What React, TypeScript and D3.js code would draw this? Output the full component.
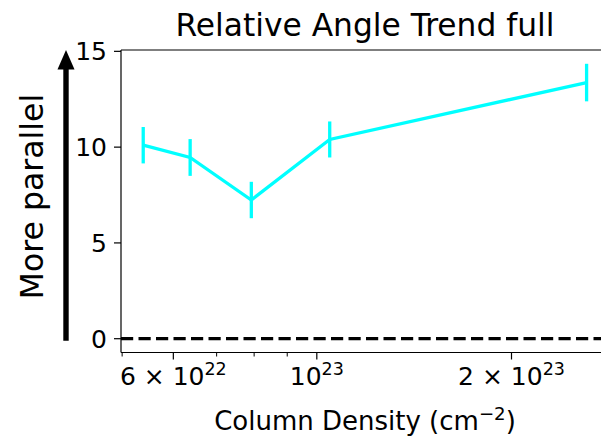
import React, { useEffect, useRef } from "react";
import * as d3 from "d3";

// column density bins (cm^-2) and mean relative angle per bin
const columnDensity = [5.39e22, 6.37e22, 7.92e22, 1.047e23, 2.613e23];
const relativeAngle = [10.1, 9.46, 7.24, 10.4, 13.37];
const angleError = [0.95, 0.96, 0.95, 0.94, 0.98];

const yTicks = [0, 5, 10, 15];
const xMajorTicks = [6e22, 1e23, 2e23];
const xMajorLabels = [
  { base: "6 \u00d7 10", exp: "22" },
  { base: "10", exp: "23" },
  { base: "2 \u00d7 10", exp: "23" },
];
const xMinorTicks = [5e22, 7e22, 8e22, 9e22, 3e23];

const W = 601;
const H = 436;
const FONT = "DejaVu Sans, sans-serif";

function App() {
  const ref = useRef<SVGSVGElement>(null);

  useEffect(() => {
    const svg = d3.select(ref.current);
    svg.selectAll("*").remove();

    const margin = { top: 50, left: 121, right: 609, bottom: 352.5 };

    const x = d3
      .scaleLog()
      .domain([4.98e22, 2.83e23])
      .range([margin.left, margin.right]);

    const y = d3
      .scaleLinear()
      .domain([-0.72, 15.07])
      .range([margin.bottom, margin.top]);

    // zero reference line
    svg
      .append("line")
      .attr("x1", margin.left)
      .attr("x2", margin.right)
      .attr("y1", y(0))
      .attr("y2", y(0))
      .attr("stroke", "#000")
      .attr("stroke-width", 3.3)
      .attr("stroke-dasharray", "12.2,5.3");

    const line = d3
      .line<number>()
      .x((_, i) => x(columnDensity[i]))
      .y((d) => y(d));

    svg
      .append("path")
      .datum(relativeAngle)
      .attr("d", line)
      .attr("fill", "none")
      .attr("stroke", "#00ffff")
      .attr("stroke-width", 3.3);

    svg
      .append("g")
      .selectAll("line")
      .data(relativeAngle)
      .join("line")
      .attr("x1", (_, i) => x(columnDensity[i]))
      .attr("x2", (_, i) => x(columnDensity[i]))
      .attr("y1", (d, i) => y(d - angleError[i]))
      .attr("y2", (d, i) => y(d + angleError[i]))
      .attr("stroke", "#00ffff")
      .attr("stroke-width", 3.3);

    // spines
    const spines = svg.append("g").attr("stroke", "#000").attr("stroke-width", 1.2);
    spines
      .append("line")
      .attr("x1", margin.left)
      .attr("x2", margin.left)
      .attr("y1", margin.top)
      .attr("y2", margin.bottom);
    spines
      .append("line")
      .attr("x1", margin.left)
      .attr("x2", margin.right)
      .attr("y1", margin.bottom)
      .attr("y2", margin.bottom);
    spines
      .append("line")
      .attr("x1", margin.left)
      .attr("x2", margin.right)
      .attr("y1", margin.top)
      .attr("y2", margin.top);

    // y ticks
    const yg = svg.append("g");
    yg.selectAll("line")
      .data(yTicks)
      .join("line")
      .attr("x1", margin.left - 7)
      .attr("x2", margin.left)
      .attr("y1", (d) => y(d))
      .attr("y2", (d) => y(d))
      .attr("stroke", "#000")
      .attr("stroke-width", 1.2);
    yg.selectAll("text")
      .data(yTicks)
      .join("text")
      .attr("x", margin.left - 14)
      .attr("y", (d) => y(d))
      .attr("dy", "0.36em")
      .attr("text-anchor", "end")
      .attr("font-family", FONT)
      .attr("font-size", 25)
      .text((d) => d);

    // x ticks
    const xg = svg.append("g");
    xg.selectAll("line.minor")
      .data(xMinorTicks.filter((d) => x(d) >= margin.left && x(d) <= margin.right))
      .join("line")
      .attr("class", "minor")
      .attr("x1", (d) => x(d))
      .attr("x2", (d) => x(d))
      .attr("y1", margin.bottom)
      .attr("y2", margin.bottom + 4)
      .attr("stroke", "#000")
      .attr("stroke-width", 1);
    xg.selectAll("line.major")
      .data(xMajorTicks)
      .join("line")
      .attr("class", "major")
      .attr("x1", (d) => x(d))
      .attr("x2", (d) => x(d))
      .attr("y1", margin.bottom)
      .attr("y2", margin.bottom + 7)
      .attr("stroke", "#000")
      .attr("stroke-width", 1.2);
    const labels = xg
      .selectAll("text")
      .data(xMajorTicks)
      .join("text")
      .attr("x", (d) => x(d))
      .attr("y", 385)
      .attr("text-anchor", "middle")
      .attr("font-family", FONT)
      .attr("font-size", 25);
    labels.append("tspan").text((_, i) => xMajorLabels[i].base);
    labels
      .append("tspan")
      .attr("dy", -10)
      .attr("font-size", 17.5)
      .text((_, i) => xMajorLabels[i].exp);

    // axis labels and title
    const xlab = svg
      .append("text")
      .attr("x", (margin.left + margin.right) / 2)
      .attr("y", 430)
      .attr("text-anchor", "middle")
      .attr("font-family", FONT)
      .attr("font-size", 26);
    xlab.append("tspan").text("Column Density (cm");
    xlab.append("tspan").attr("dy", -10).attr("font-size", 18.2).text("\u22122");
    xlab.append("tspan").attr("dy", 10).text(")");

    svg
      .append("text")
      .attr("transform", `translate(42.5,196.5) rotate(-90)`)
      .attr("text-anchor", "middle")
      .attr("font-family", FONT)
      .attr("font-size", 31.5)
      .text("More parallel");

    svg
      .append("text")
      .attr("x", (margin.left + margin.right) / 2)
      .attr("y", 36)
      .attr("text-anchor", "middle")
      .attr("font-family", FONT)
      .attr("font-size", 31.3)
      .text("Relative Angle Trend full");

    // arrow next to the y label
    const ax = 66;
    svg
      .append("line")
      .attr("x1", ax)
      .attr("x2", ax)
      .attr("y1", 340.7)
      .attr("y2", 68)
      .attr("stroke", "#000")
      .attr("stroke-width", 5.4);
    svg
      .append("path")
      .attr("d", `M${ax},50 L${ax - 8.5},69.5 L${ax + 8.5},69.5 Z`)
      .attr("fill", "#000");
  }, []);

  return (
    <svg
      ref={ref}
      width={W}
      height={H}
      style={{ position: "absolute", left: 0, top: 0, background: "#fff" }}
    />
  );
}

export default App;
